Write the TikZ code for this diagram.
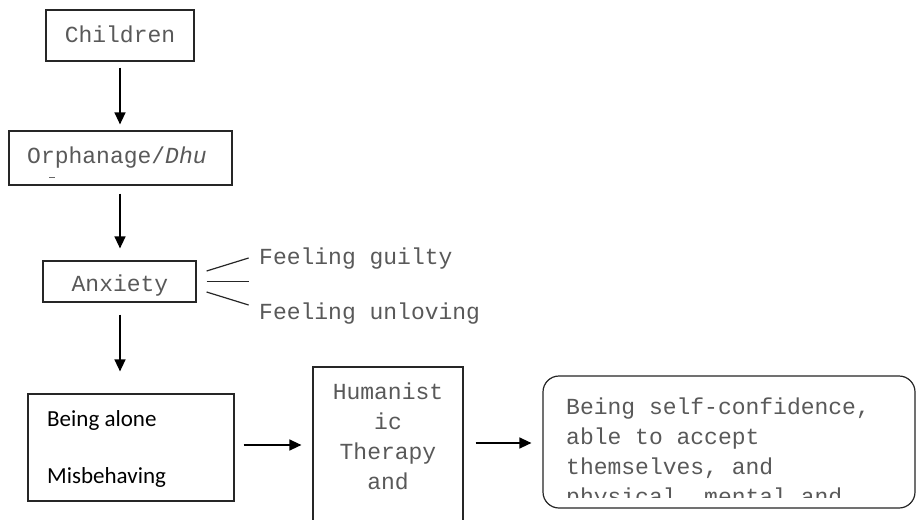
\documentclass[tikz,border=0pt]{standalone}
\usepackage{fontspec}
\newfontfamily\monofnt{Liberation Mono}
\newfontfamily\calfnt{Carlito}
\usetikzlibrary{arrows.meta,calc}
\begin{document}
\begin{tikzpicture}[x=1pt,y=-1pt,
 box/.style={draw=black!85, line width=1.2pt, inner sep=0pt},
 mtext/.style={font=\monofnt\fontsize{23}{28}\selectfont, text=black!65, inner sep=0pt, anchor=base},
 ctext/.style={font=\calfnt\fontsize{23}{28}\selectfont, text=black, inner sep=0pt, anchor=base west},
 arr/.style={draw=black, line width=1.4pt, -{Triangle[length=12pt,width=11pt]}},
 ln/.style={draw=black!85, line width=1.2pt}]
\useasboundingbox (0,0) rectangle (920,519);
\clip (0,0) rectangle (920,519);
\fill[white] (0,0) rectangle (920,519);

% Children
\node[box, minimum width=148pt, minimum height=51pt] (children) at (120,35.5) {};
\node[mtext] (tchildren) at (120,42) {Children};

% Orphanage
\node[box, minimum width=223pt, minimum height=54pt] (orph) at (120.5,158) {};
\node[mtext, anchor=base west] (torph) at (27,163) {Orphanage/\textit{Dhu}};
\draw[line width=0.8pt, black!60] (49,177) -- (55,177);

% Anxiety
\node[box, minimum width=153pt, minimum height=41pt] (anx) at (119.5,281.5) {};
\node[mtext] (tanx) at (120,291) {Anxiety};
\node[mtext, anchor=base west] (guilty) at (259,264) {Feeling guilty};
\node[mtext, anchor=base west] (unloving) at (259,319) {Feeling unloving};
\draw[ln] ($(anx.east)+(10,-10.5)$) -- ($(anx.east)+(52,-23.5)$);
\draw[ln] ($(anx.east)+(10,0)$) -- ($(anx.east)+(52,0)$);
\draw[ln] ($(anx.east)+(10,10.5)$) -- ($(anx.east)+(52,23.5)$);

% Being alone
\node[box, minimum width=206pt, minimum height=107pt] (being) at (131,447.5) {};
\node[ctext] (talone) at (47,426) {Being alone};
\node[ctext] (tmisb) at (47,483) {Misbehaving};

% Humanistic
\node[box, minimum width=150pt, minimum height=193pt] (hum) at (388,463.5) {};
\node[mtext] (th1) at (388,399) {Humanist};
\node[mtext] (th2) at (388,429) {ic};
\node[mtext] (th3) at (388,459) {Therapy};
\node[mtext] (th4) at (388,489) {and};

% Result
\node[box, rounded corners=16pt, minimum width=372pt, minimum height=132pt] (self) at (729,442) {};
\node[mtext, anchor=base west] (ts1) at (566,414) {Being self-confidence,};
\node[mtext, anchor=base west] (ts2) at (566,444) {able to accept};
\node[mtext, anchor=base west] (ts3) at (566,474) {themselves, and};
\begin{scope}
\clip (545,378) rectangle (913,497);
\node[mtext, anchor=base west] (ts4) at (566,504) {physical, mental and};
\end{scope}

% Arrows
\draw[arr] ($(children.south)+(0,6)$) -- ($(children.south |- orph.north)+(0,-6)$);
\draw[arr] ($(children.south |- orph.south)+(0,8)$) -- ($(children.south |- anx.north)+(0,-12)$);
\draw[arr] ($(children.south |- anx.south)+(0,12)$) -- ($(children.south |- being.north)+(0,-22)$);
\draw[arr] ($(being.east)+(9,-2.5)$) -- ($(hum.west)+(-11,-18.5)$);
\draw[arr] ($(hum.east)+(12,-20.5)$) -- ($(self.west)+(-11,1)$);
\end{tikzpicture}
\end{document}
